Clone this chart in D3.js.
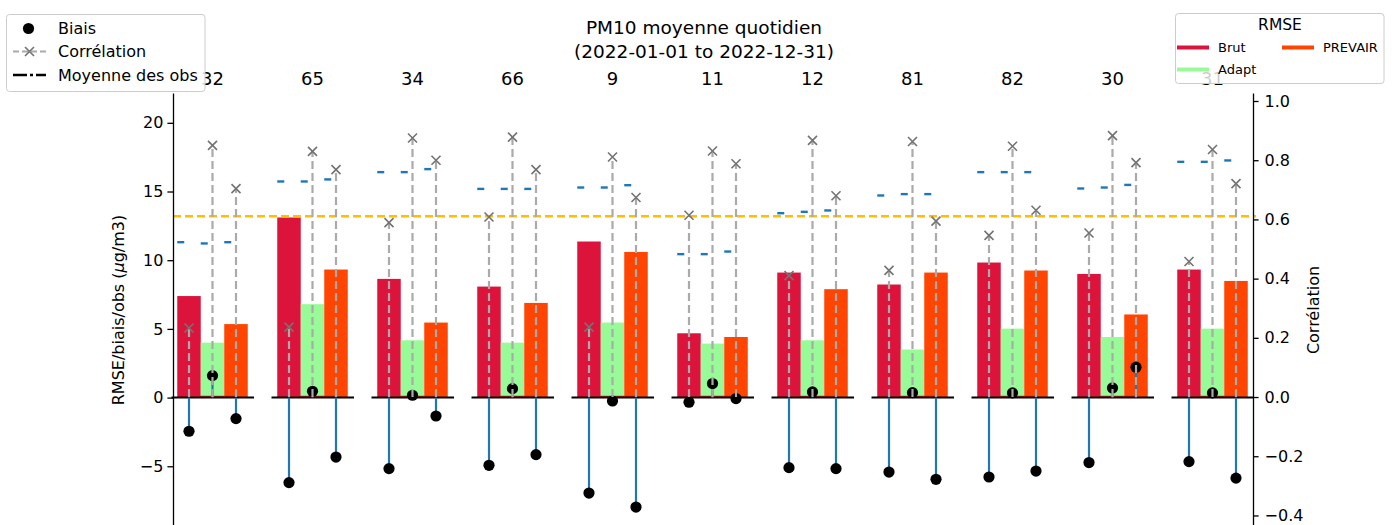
<!DOCTYPE html>
<html>
<head>
<meta charset="utf-8">
<script src="https://cdn.jsdelivr.net/npm/d3@7"></script>
<style>
  body { margin: 0; background: #fff; }
  svg { display: block; font-family: "DejaVu Sans", sans-serif; }
</style>
</head>
<body>
<svg id="chart" width="1392" height="525"></svg>
<script>
// Stations (one group of bars per station)
const stations = ["32", "65", "34", "66", "9", "11", "12", "81", "82", "30", "31"];

// RMSE (µg/m3) per model
const rmseBrut    = [7.39, 13.11, 8.64, 8.08, 11.36, 4.68, 9.10, 8.23, 9.83, 9.00, 9.32];
const rmseAdapt   = [4.00, 6.80, 4.17, 4.00, 5.46, 3.93, 4.17, 3.50, 5.02, 4.41, 5.02];
const rmsePrevair = [5.35, 9.32, 5.46, 6.89, 10.60, 4.41, 7.89, 9.10, 9.25, 6.05, 8.49];

// Bias (µg/m3) per model
const biaisBrut    = [-2.45, -6.19, -5.17, -4.93, -6.95, -0.34, -5.10, -5.42, -5.78, -4.73, -4.66];
const biaisAdapt   = [1.60, 0.46, 0.17, 0.65, -0.25, 1.02, 0.41, 0.36, 0.34, 0.70, 0.34];
const biaisPrevair = [-1.53, -4.33, -1.34, -4.15, -7.97, -0.07, -5.17, -5.95, -5.35, 2.21, -5.86];

// Correlation per model
const corrBrut    = [0.233, 0.236, 0.589, 0.608, 0.236, 0.614, 0.410, 0.428, 0.546, 0.554, 0.458];
const corrAdapt   = [0.850, 0.830, 0.875, 0.878, 0.811, 0.831, 0.867, 0.863, 0.847, 0.883, 0.836];
const corrPrevair = [0.704, 0.768, 0.800, 0.768, 0.674, 0.788, 0.680, 0.594, 0.631, 0.792, 0.721];

// Mean of the observations (µg/m3) over each model's valid days
const obsBrut    = [11.31, 15.73, 16.41, 15.19, 15.29, 10.44, 13.42, 14.71, 16.41, 15.22, 17.16];
const obsAdapt   = [11.22, 15.73, 16.41, 15.19, 15.29, 10.44, 13.52, 14.81, 16.41, 15.29, 17.16];
const obsPrevair = [11.31, 15.88, 16.63, 15.19, 15.46, 10.63, 13.62, 14.81, 16.41, 15.48, 17.26];

// Reference level (µg/m3)
const refLevel = 13.2;

// Axis ticks
const leftTicks  = [-5, 0, 5, 10, 15, 20];
const rightTicks = [-0.4, -0.2, 0.0, 0.2, 0.4, 0.6, 0.8, 1.0];

const models = [
  { name: "Brut",    color: "#DC143C", rmse: rmseBrut,    biais: biaisBrut,    corr: corrBrut,    obs: obsBrut },
  { name: "Adapt",   color: "#98FB98", rmse: rmseAdapt,   biais: biaisAdapt,   corr: corrAdapt,   obs: obsAdapt },
  { name: "PREVAIR", color: "#FF4500", rmse: rmsePrevair, biais: biaisPrevair, corr: corrPrevair, obs: obsPrevair }
];

const svg = d3.select("#chart");
const plot = { left: 173, right: 1253, top: 93, bottom: 527 };

const x  = d3.scaleLinear().domain([-0.395, 10.405]).range([plot.left, plot.right]);
const yL = d3.scaleLinear().domain([-9.42, 22.17]).range([plot.bottom, plot.top]);
const yR = d3.scaleLinear().domain([-0.439, 1.027]).range([plot.bottom, plot.top]);

const barW = 0.235;
const offsets = [-barW, 0, barW];
const minus = s => String(s).replace("-", "\u2212");

const cells = [];
stations.forEach((s, i) => models.forEach((m, k) => cells.push({
  i, k, color: m.color, cx: i + offsets[k],
  rmse: m.rmse[i], biais: m.biais[i], corr: m.corr[i], obs: m.obs[i]
})));

const g = svg.append("g");

// RMSE bars
g.selectAll("rect.bar").data(cells).join("rect")
  .attr("class", "bar")
  .attr("x", d => x(d.cx - barW / 2))
  .attr("width", x(barW) - x(0))
  .attr("y", d => yL(d.rmse))
  .attr("height", d => yL(0) - yL(d.rmse))
  .attr("fill", d => d.color);

// stem baseline (red) for each group
g.selectAll("line.stembase").data(stations).join("line")
  .attr("x1", (s, i) => x(i - barW)).attr("x2", (s, i) => x(i + barW))
  .attr("y1", yL(0) - 1.2).attr("y2", yL(0) - 1.2)
  .attr("stroke", "#d62728").attr("stroke-width", 1.2);

// zero line for each group
g.selectAll("line.base").data(stations).join("line")
  .attr("x1", (s, i) => x(i - 0.41)).attr("x2", (s, i) => x(i + 0.415))
  .attr("y1", yL(0)).attr("y2", yL(0))
  .attr("stroke", "#000").attr("stroke-width", 2);

// bias stems
g.selectAll("line.stem").data(cells).join("line")
  .attr("x1", d => x(d.cx)).attr("x2", d => x(d.cx))
  .attr("y1", yL(0)).attr("y2", d => yL(d.biais))
  .attr("stroke", "#1f77b4").attr("stroke-width", 2.2);

g.selectAll("circle.dot").data(cells).join("circle")
  .attr("cx", d => x(d.cx)).attr("cy", d => yL(d.biais))
  .attr("r", 5.6).attr("fill", "#000");

// mean of observations
g.selectAll("line.obs").data(cells).join("line")
  .attr("x1", d => x(d.cx - barW / 2)).attr("x2", d => x(d.cx - barW / 2 + 0.07))
  .attr("y1", d => yL(d.obs)).attr("y2", d => yL(d.obs))
  .attr("stroke", "#1f77b4").attr("stroke-width", 2.4);

// reference level
g.append("line")
  .attr("x1", plot.left).attr("x2", plot.right + 3)
  .attr("y1", yL(refLevel)).attr("y2", yL(refLevel))
  .attr("stroke", "#FFBF00").attr("stroke-width", 2.4)
  .attr("stroke-dasharray", "8,4");

// correlation (right axis)
g.selectAll("line.corr").data(cells).join("line")
  .attr("x1", d => x(d.cx)).attr("x2", d => x(d.cx))
  .attr("y1", yR(0)).attr("y2", d => yR(d.corr))
  .attr("stroke", "#aaaaaa").attr("stroke-width", 2.2)
  .attr("stroke-dasharray", "8,4");

const xs = 4.5;
g.selectAll("path.cross").data(cells).join("path")
  .attr("transform", d => `translate(${x(d.cx)},${yR(d.corr)})`)
  .attr("d", `M${-xs},${-xs}L${xs},${xs}M${-xs},${xs}L${xs},${-xs}`)
  .attr("stroke", "#737373").attr("stroke-width", 1.6).attr("fill", "none");

// station labels above the groups
g.selectAll("text.station").data(stations).join("text")
  .attr("x", (s, i) => x(i)).attr("y", 78)
  .attr("text-anchor", "middle").attr("dominant-baseline", "central")
  .attr("font-size", 18).attr("fill", "#000")
  .text(s => s);

// axes
const axL = svg.append("g").attr("transform", `translate(${plot.left},0)`)
  .call(d3.axisLeft(yL).tickValues(leftTicks).tickSize(5.6).tickSizeOuter(0).tickPadding(4)
    .tickFormat(d => minus(d)));
const axR = svg.append("g").attr("transform", `translate(${plot.right},0)`)
  .call(d3.axisRight(yR).tickValues(rightTicks).tickSize(5.6).tickSizeOuter(0).tickPadding(6)
    .tickFormat(d => minus(d3.format(".1f")(d))));
[axL, axR].forEach(a => {
  a.select(".domain").attr("stroke", "#000").attr("stroke-width", 1.3);
  a.selectAll(".tick line").attr("stroke", "#000").attr("stroke-width", 1.3);
  a.selectAll(".tick text").attr("font-size", 16).attr("fill", "#000")
    .attr("font-family", "DejaVu Sans, sans-serif");
});

// axis titles
const yLabel = svg.append("text")
  .attr("transform", `translate(124,310) rotate(-90)`)
  .attr("text-anchor", "middle").attr("font-size", 16);
yLabel.append("tspan").text("RMSE/biais/obs (");
yLabel.append("tspan").attr("font-style", "italic").text("\u03bc");
yLabel.append("tspan").text("g/m3)");

svg.append("text")
  .attr("transform", `translate(1319,310) rotate(-90)`)
  .attr("text-anchor", "middle").attr("font-size", 16)
  .text("Corrélation");

// title
const title = svg.append("text").attr("text-anchor", "middle").attr("font-size", 18.5);
title.append("tspan").attr("x", 704).attr("y", 34).text("PM10 moyenne quotidien");
title.append("tspan").attr("x", 704).attr("y", 58).text("(2022-01-01 to 2022-12-31)");

// left legend
const lg = svg.append("g");
lg.append("rect").attr("x", 6.5).attr("y", 14.5).attr("width", 198.5).attr("height", 77)
  .attr("rx", 3).attr("fill", "#fff").attr("fill-opacity", 0.8)
  .attr("stroke", "#cccccc").attr("stroke-width", 1);
lg.append("circle").attr("cx", 28.5).attr("cy", 28.5).attr("r", 5.6).attr("fill", "#000");
lg.append("line").attr("x1", 13).attr("x2", 46).attr("y1", 51.5).attr("y2", 51.5)
  .attr("stroke", "#aaaaaa").attr("stroke-width", 2).attr("stroke-dasharray", "6,3");
lg.append("path").attr("transform", "translate(29.5,51.5)")
  .attr("d", `M${-xs},${-xs}L${xs},${xs}M${-xs},${xs}L${xs},${-xs}`)
  .attr("stroke", "#737373").attr("stroke-width", 1.6);
lg.append("line").attr("x1", 13).attr("x2", 46).attr("y1", 75).attr("y2", 75)
  .attr("stroke", "#000").attr("stroke-width", 2.4).attr("stroke-dasharray", "14,3,3,3");
const legendItems = ["Biais", "Corrélation", "Moyenne des obs"];
lg.selectAll("text").data(legendItems).join("text")
  .attr("x", 58).attr("y", (d, i) => 28.5 + i * 23.3)
  .attr("dominant-baseline", "central").attr("font-size", 16).text(d => d);

// right legend (RMSE)
const rg = svg.append("g");
rg.append("rect").attr("x", 1175.5).attr("y", 13.5).attr("width", 208.5).attr("height", 70)
  .attr("rx", 3).attr("fill", "#fff").attr("fill-opacity", 0.8)
  .attr("stroke", "#cccccc").attr("stroke-width", 1);
rg.append("text").attr("x", 1280).attr("y", 25).attr("text-anchor", "middle")
  .attr("dominant-baseline", "central").attr("font-size", 15.5).text("RMSE");
const rItems = [
  { m: models[0], lx: 1177, ly: 47.5 },
  { m: models[1], lx: 1177, ly: 69.5 },
  { m: models[2], lx: 1282, ly: 47.5 }
];
rItems.forEach(d => {
  rg.append("line").attr("x1", d.lx).attr("x2", d.lx + 32).attr("y1", d.ly).attr("y2", d.ly)
    .attr("stroke", d.m.color).attr("stroke-width", 4);
  rg.append("text").attr("x", d.lx + 41).attr("y", d.ly).attr("dominant-baseline", "central")
    .attr("font-size", 13).text(d.m.name);
});
</script>
</body>
</html>
